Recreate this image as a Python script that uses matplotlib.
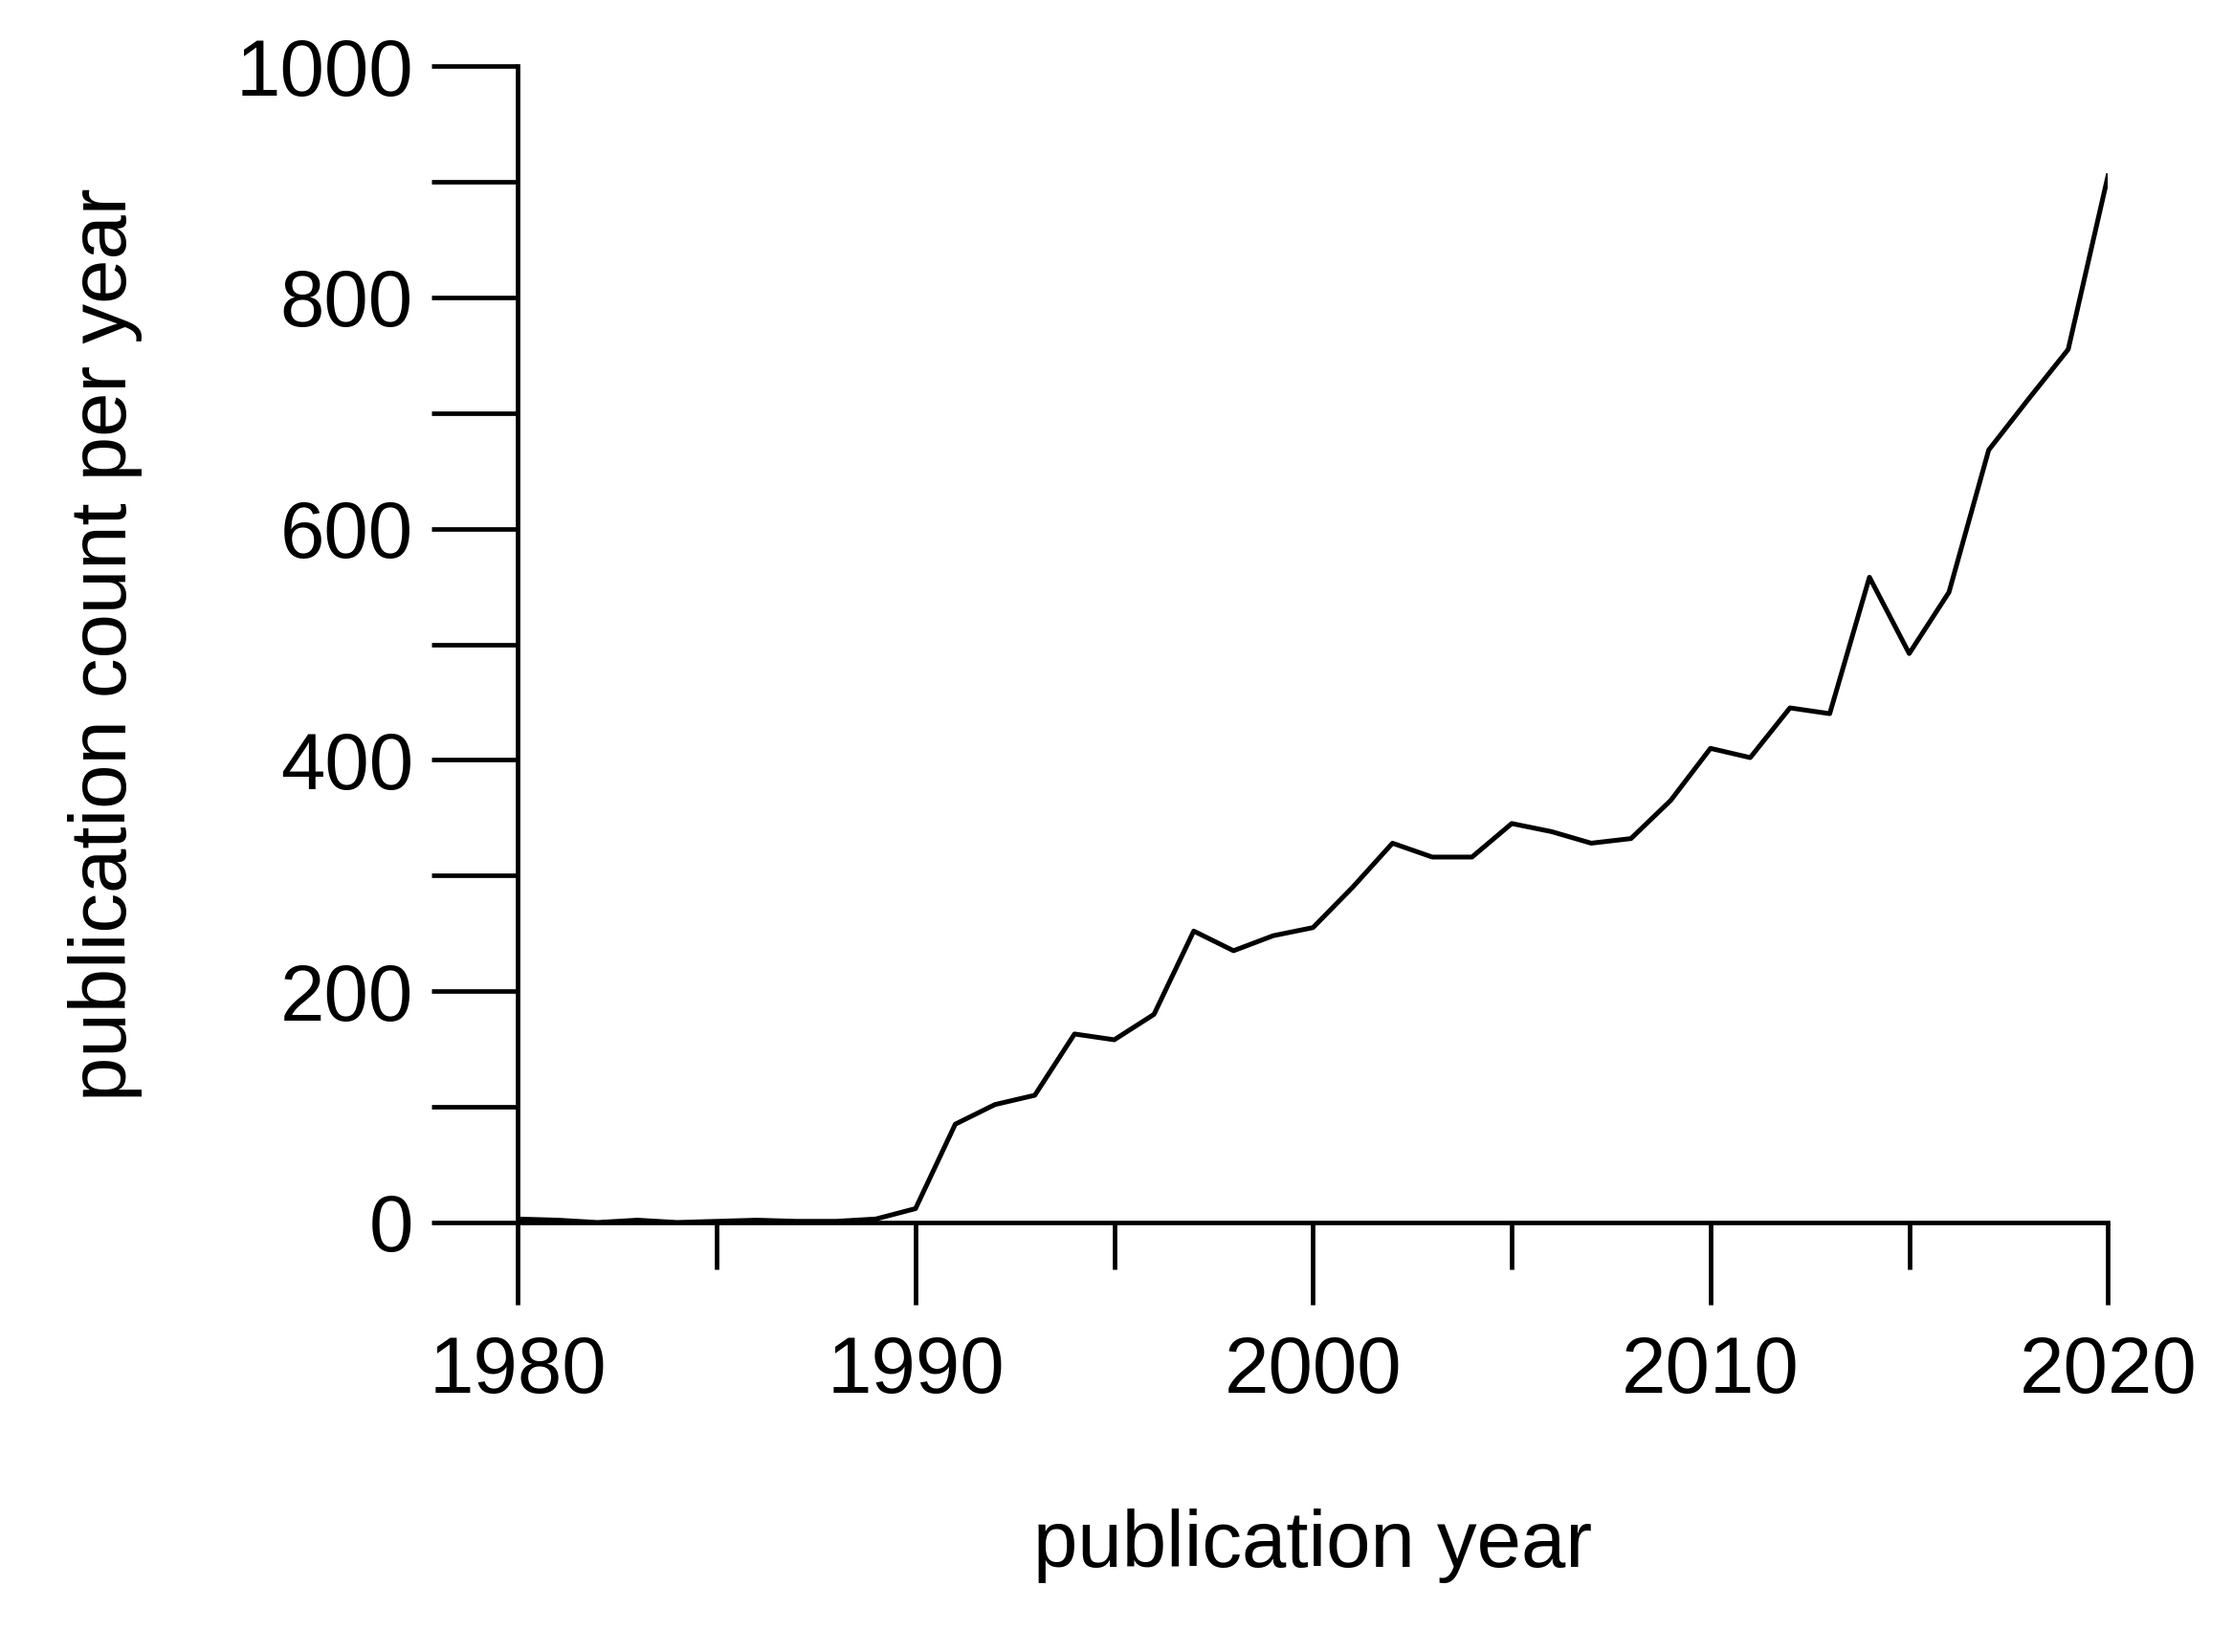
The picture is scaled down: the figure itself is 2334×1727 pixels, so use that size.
import matplotlib
matplotlib.use("Agg")
import matplotlib.pyplot as plt
from matplotlib.ticker import MultipleLocator

years = list(range(1980, 2021))
counts = [3, 2, 0, 2, 0, 1, 2, 1, 1, 3, 12, 85, 102, 110, 163, 158, 180, 252, 235, 248,
          255, 290, 328, 316, 316, 345, 338, 328, 332, 365, 410, 402, 445, 440, 558, 492,
          545, 668, 712, 755, 905]

plt.rcParams['font.family'] = ['Liberation Sans', 'DejaVu Sans']
fig = plt.figure(figsize=(23.34, 17.27), dpi=100)
ax = fig.add_axes([0.232, 0.26, 0.712, 0.70])
ax.plot(years, counts, color='black', lw=3.6)
ax.set_xlim(1980, 2020)
ax.set_ylim(0, 1000)
for s in ['top', 'right']:
    ax.spines[s].set_visible(False)
for s in ['left', 'bottom']:
    ax.spines[s].set_linewidth(3.4)
ax.xaxis.set_major_locator(MultipleLocator(10))
ax.xaxis.set_minor_locator(MultipleLocator(5))
ax.yaxis.set_major_locator(MultipleLocator(200))
ax.yaxis.set_minor_locator(MultipleLocator(100))
ax.tick_params(axis='x', which='major', length=62, width=3.4, labelsize=60, pad=22)
ax.tick_params(axis='x', which='minor', length=35, width=3.4)
ax.tick_params(axis='y', which='both', length=65, width=3.4, labelsize=60, pad=14)
ax.set_xlabel('publication year', fontsize=60, labelpad=75)
ax.set_ylabel('publication count per year', fontsize=60, labelpad=70)
fig.savefig('out.png', dpi=100)
